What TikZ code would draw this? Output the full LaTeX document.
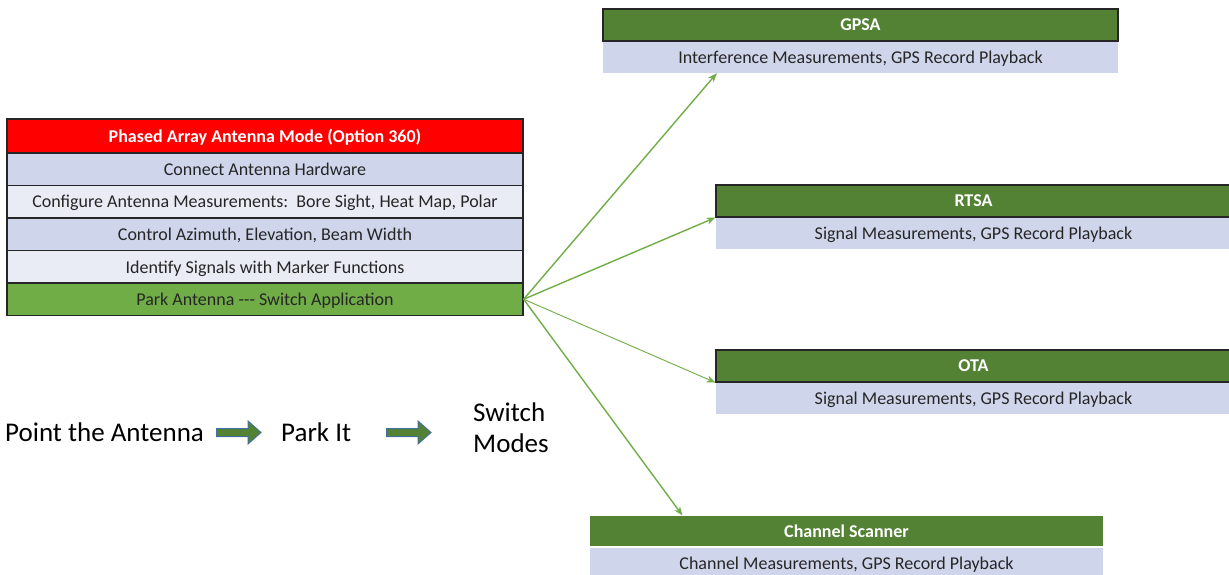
\documentclass[tikz,border=0pt]{standalone}
\usepackage{fontspec}
\setmainfont{Carlito}
\usetikzlibrary{arrows.meta,calc}
\definecolor{hdrred}{HTML}{FF0000}
\definecolor{dkgreen}{HTML}{548235}
\definecolor{ltgreen}{HTML}{70AD47}
\definecolor{lavA}{HTML}{CFD5EA}
\definecolor{lavB}{HTML}{E9EBF5}
\definecolor{edgec}{HTML}{262626}
\definecolor{txt}{HTML}{262626}
\definecolor{barblue}{HTML}{41719C}
\begin{document}
\begin{tikzpicture}[x=1pt,y=-1pt,
  rowbox/.style={draw=edgec, line width=1.3pt, minimum width=516pt, minimum height=32.5pt, inner sep=0pt, text depth=0pt, font=\fontsize{18}{21}\selectfont, text=txt},
  hdrbox/.style={draw=edgec, line width=1.1pt, fill=dkgreen, minimum width=515pt, minimum height=32pt, inner sep=0pt, text depth=0pt, font=\fontsize{18}{21}\selectfont\bfseries, text=white},
  subbox/.style={fill=lavA, minimum width=515pt, minimum height=32pt, inner sep=0pt, text depth=0pt, font=\fontsize{18}{21}\selectfont, text=txt},
  conn/.style={draw=ltgreen, line width=1.4pt, -{Stealth[length=9pt,width=7pt]}},
  bigtext/.style={font=\fontsize{27}{31}\selectfont, text=black, inner sep=0pt},
  blockarrow/.style={draw=barblue, line width=1pt, fill=dkgreen, line join=miter}
]
\useasboundingbox (0,0) rectangle (1229,575);
% left table
\node[rowbox, fill=hdrred, text=white, font=\fontsize{18}{21}\selectfont\bfseries, minimum height=34pt] (hdr) at (265,136) {Phased Array Antenna Mode (Option 360)};
\node[rowbox, fill=lavA] (r1) at (265,169.25) {Connect Antenna Hardware};
\node[rowbox, fill=lavB] (r2) at (265,201.75) {Configure Antenna Measurements:\ \ Bore Sight, Heat Map, Polar};
\node[rowbox, fill=lavA] (r3) at (265,234.25) {Control Azimuth, Elevation, Beam Width};
\node[rowbox, fill=lavB] (r4) at (265,266.75) {Identify Signals with Marker Functions};
\node[rowbox, fill=ltgreen] (park) at (265,299.25) {Park Antenna {-}{-}{-} Switch Application};
% right blocks
\node[subbox] (gpsasub) at (860.5,57) {Interference Measurements, GPS Record Playback};
\node[hdrbox] (gpsa) at (860.5,25) {GPSA};
\node[subbox] (rtsasub) at (973.5,233) {Signal Measurements, GPS Record Playback};
\node[hdrbox] (rtsa) at (973.5,201) {RTSA};
\node[subbox] (otasub) at (973.5,398) {Signal Measurements, GPS Record Playback};
\node[hdrbox] (ota) at (973.5,366) {OTA};
\node[subbox, minimum width=513pt, minimum height=30pt] (chsub) at (846.5,563) {Channel Measurements, GPS Record Playback};
\node[hdrbox, draw=none, minimum width=513pt, minimum height=30pt] (ch) at (846.5,531) {Channel Scanner};
% connectors
\coordinate (gpsatip) at ($(gpsasub.south west)+(114,0)$);
\coordinate (chtip) at ($(ch.north west)+(93,0)$);
\draw[conn] (park.east) -- (gpsatip);
\draw[conn] (park.east) -- (rtsa.south west);
\draw[conn, line width=0.9pt] (park.east) -- (ota.south west);
\draw[conn] (park.east) -- (chtip);
% bottom flow
\node[bigtext, anchor=west] (point) at (5,432) {Point the Antenna};
\draw[blockarrow] (216.5,428.5) -- (248,428.5) -- (248,421) -- (261,432.5) -- (248,444) -- (248,436.5) -- (216.5,436.5) -- cycle;
\node[bigtext, anchor=west] (parkit) at (281,432) {Park It};
\draw[blockarrow] (386.5,428.5) -- (418,428.5) -- (418,421) -- (431,432.5) -- (418,444) -- (418,436.5) -- (386.5,436.5) -- cycle;
\node[bigtext, anchor=west, align=left] (switch) at (473,428) {Switch\\Modes};
\end{tikzpicture}
\end{document}
